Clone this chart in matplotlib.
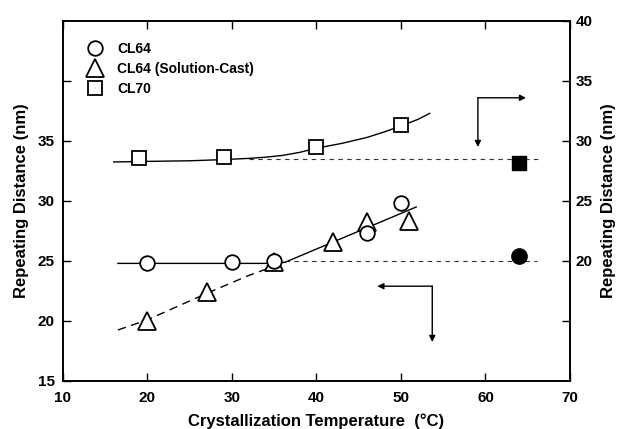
import matplotlib
matplotlib.use("Agg")
import matplotlib.pyplot as plt

plt.rcParams["font.family"] = ["Liberation Sans", "DejaVu Sans"]
plt.rcParams["font.weight"] = "bold"

# CL64 (left axis, nm)
cl64_t = [20, 30, 35, 46, 50]
cl64_d = [24.8, 24.9, 25.0, 27.3, 29.8]
# CL64 solution-cast (left axis, nm)
cast_t = [20, 27, 35, 42, 46, 51]
cast_d = [20.0, 22.4, 24.9, 26.6, 28.25, 28.3]
# CL70 (right axis, nm)
cl70_t = [19, 29, 40, 50]
cl70_d = [28.6, 28.7, 29.5, 31.3]

# fitted guide curves
fit64_t = [16.5, 35, 36.3, 51.8]
fit64_d = [24.8, 24.8, 24.9, 29.5]
dash64_t = [16.5, 20, 27, 32, 36.3]
dash64_d = [19.25, 20.1, 22.3, 23.8, 24.9]
fit70_t = [16, 20, 25, 29, 32, 34, 36, 38, 40, 43, 46, 48, 50, 52, 53.4]
fit70_d = [28.25, 28.3, 28.35, 28.45, 28.55, 28.65, 28.8, 29.05, 29.4, 29.8,
           30.3, 30.75, 31.25, 31.8, 32.3]

# reference values at 64 °C (filled symbols) and their dotted levels
ref64_t, ref64_d = 64, 25.4
ref70_t, ref70_d = 64, 28.2
level64_t, level64_d = [36.3, 66.1], 25.0
level70_t, level70_d = [32, 66.4], 28.5

fig = plt.figure(figsize=(6.17, 4.29), dpi=100)
ax = fig.add_axes([0.1021, 0.1119, 0.8217, 0.8392])
ax2 = ax.twinx()

ax.set_xlim(10, 70)
ax.set_ylim(15, 45)
ax2.set_ylim(10, 40)

lw_fit = 1.0
ax.plot(fit64_t, fit64_d, color="black", lw=lw_fit, zorder=2)
ax.plot(dash64_t, dash64_d, color="black", lw=lw_fit, ls=(0, (6, 4)), zorder=2)
ax.plot(level64_t, [level64_d] * 2, color="#333333", lw=0.8, ls=(0, (4, 4)), zorder=1)
ax2.plot(fit70_t, fit70_d, color="black", lw=lw_fit, zorder=2)
ax2.plot(level70_t, [level70_d] * 2, color="#333333", lw=0.8, ls=(0, (4, 4)), zorder=1)

h_cast, = ax.plot(cast_t, cast_d, ls="none", marker="^", ms=12.5, mfc="white",
                  mec="black", mew=1.3, zorder=3, label="CL64 (Solution-Cast)")
h64, = ax.plot(cl64_t, cl64_d, ls="none", marker="o", ms=10.5, mfc="white",
               mec="black", mew=1.3, zorder=4, label="CL64")
h70, = ax2.plot(cl70_t, cl70_d, ls="none", marker="s", ms=9.5, mfc="white",
                mec="black", mew=1.3, zorder=4, label="CL70")
ax.plot([ref64_t], [ref64_d], ls="none", marker="o", ms=11, color="black", zorder=4)
ax2.plot([ref70_t], [ref70_d], ls="none", marker="s", ms=10, color="black", zorder=4)

# arrows pointing to the axis each series belongs to
arrow = dict(arrowstyle="-|>", color="black", lw=1.0, mutation_scale=9,
             shrinkA=0, shrinkB=0)
ax2.annotate("", xy=(64.8, 33.6), xytext=(59.1, 33.6), arrowprops=arrow)
ax2.annotate("", xy=(59.1, 29.5), xytext=(59.1, 33.6), arrowprops=arrow)
ax.annotate("", xy=(47.2, 22.9), xytext=(53.7, 22.9), arrowprops=arrow)
ax.annotate("", xy=(53.7, 18.25), xytext=(53.7, 22.9), arrowprops=arrow)

tick_font = dict(fontsize=11, fontweight="bold")
ax.set_xticks([10, 20, 30, 40, 50, 60, 70])
ax.set_xticklabels(["10", "20", "30", "40", "50", "60", "70"], **tick_font)
ax.set_yticks([15, 20, 25, 30, 35, 40])
ax.set_yticklabels(["15", "20", "25", "30", "35", ""], **tick_font)
ax2.set_yticks([15, 20, 25, 30, 35, 40])
ax2.set_yticklabels(["", "20", "25", "30", "35", "40"], **tick_font)

ax.tick_params(axis="x", direction="in", top=True, length=6, width=1, pad=7)
ax.tick_params(axis="y", direction="in", length=6, width=1, pad=6)
ax2.tick_params(axis="y", direction="in", length=6, width=1, pad=4)
for a in (ax, ax2):
    for s in a.spines.values():
        s.set_linewidth(1.2)

ax.set_xlabel("Crystallization Temperature  (°C)", fontsize=12, fontweight="bold", labelpad=6)
ax.set_ylabel("Repeating Distance (nm)", fontsize=12, fontweight="bold", labelpad=6)
ax2.set_ylabel("Repeating Distance (nm)", fontsize=12, fontweight="bold", labelpad=6)

ax.legend(handles=[h64, h_cast, h70], loc="upper left", frameon=False,
          bbox_to_anchor=(0.027, 0.97), prop=dict(size=10, weight="bold"),
          handletextpad=1.0, labelspacing=0.45, borderaxespad=0.3,
          handlelength=1.2)

fig.savefig("out.png", dpi=100)
